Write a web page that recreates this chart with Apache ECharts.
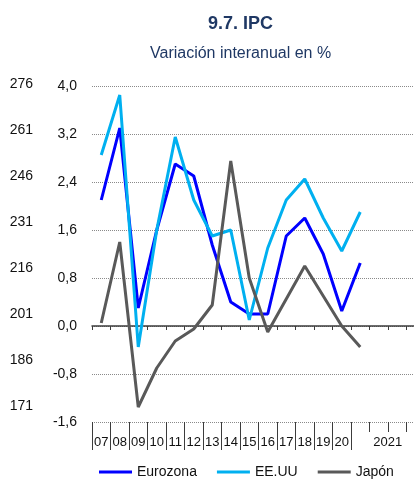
<!DOCTYPE html>
<html>
<head>
<meta charset="utf-8">
<script src="https://cdn.jsdelivr.net/npm/echarts@6/dist/echarts.min.js"></script>
<style>
  html, body { margin: 0; padding: 0; background: #ffffff; overflow: hidden; }
  #chart { width: 425px; height: 480px; }
</style>
</head>
<body>
<div id="chart"></div>
<script>
// Annual categories, followed by four sub-periods of 2021
const years = ['07', '08', '09', '10', '11', '12', '13', '14', '15', '16', '17', '18', '19', '20'];
const slots2021 = ['2021', '', '', ''];
const categories = years.concat(slots2021);

// Year-on-year CPI change, %
const eurozona = [2.1, 3.3, 0.3, 1.6, 2.7, 2.5, 1.35, 0.4, 0.2, 0.2, 1.5, 1.8, 1.2, 0.25, 1.05, null, null, null];
const eeuu     = [2.85, 3.85, -0.35, 1.6, 3.15, 2.1, 1.5, 1.6, 0.1, 1.3, 2.1, 2.45, 1.8, 1.25, 1.9, null, null, null];
const japon    = [0.05, 1.4, -1.35, -0.7, -0.25, -0.05, 0.35, 2.75, 0.8, -0.1, 0.45, 1.0, 0.5, 0.0, -0.35, null, null, null];

// Left scales
const pctMin = -1.6, pctMax = 4.0, pctStep = 0.8;
const idxMin = 171, idxMax = 276, idxStep = 15;

const FONT = '"Liberation Sans", Arial, sans-serif';
const navy = '#1F3864';
const ink = '#111111';
const axisGrey = '#3c3c3c';

const chart = echarts.init(document.getElementById('chart'), null, { renderer: 'canvas' });

chart.setOption({
  animation: false,
  backgroundColor: '#ffffff',
  textStyle: { fontFamily: FONT },
  title: [
    { text: '9.7. IPC', left: 203, top: 10,
      textStyle: { fontFamily: FONT, fontSize: 18, fontWeight: 'bold', color: navy } },
    { text: 'Variación interanual en %', left: 145, top: 41,
      textStyle: { fontFamily: FONT, fontSize: 16, fontWeight: 'normal', color: navy } }
  ],
  legend: {
    left: 94, top: 460,
    icon: 'rect', itemWidth: 33, itemHeight: 3, itemGap: 20,
    textStyle: { fontFamily: FONT, fontSize: 14, color: ink },
    data: ['Eurozona', 'EE.UU', 'Japón']
  },
  grid: [
    { left: 92, right: 0, top: 86, bottom: 58, containLabel: false },
    { left: 92, right: 0, top: 84, bottom: 74.3, containLabel: false }
  ],
  xAxis: [
    { // category labels with long separators below the plot
      type: 'category', gridIndex: 0, data: categories, position: 'bottom',
      boundaryGap: true,
      axisLine: { show: false, onZero: false },
      axisTick: { show: true, length: 28, interval: function (i) { return i <= years.length; },
                  lineStyle: { color: axisGrey, width: 1 } },
      axisLabel: {
        interval: 0, margin: 14, fontFamily: FONT, fontSize: 13, color: ink,
        formatter: function (v) { return v === '2021' ? '{y|2021}' : v; },
        rich: { y: { fontFamily: FONT, fontSize: 13, color: ink, padding: [0, 0, 0, 55] } }
      },
      splitLine: { show: false }
    },
    { // zero line with short ticks
      type: 'category', gridIndex: 0, data: categories, position: 'top',
      boundaryGap: true,
      axisLine: { show: true, onZero: true, lineStyle: { color: axisGrey, width: 1.5 } },
      axisTick: { show: true, inside: true, length: 4, interval: 0, lineStyle: { color: axisGrey, width: 1 } },
      axisLabel: { show: false },
      splitLine: { show: false }
    },
    { // short ticks under the 2021 sub-periods
      type: 'category', gridIndex: 0, data: categories, position: 'bottom',
      boundaryGap: true,
      axisLine: { show: false, onZero: false },
      axisTick: { show: true, length: 10,
                  interval: function (i) { return i > years.length && i < categories.length; },
                  lineStyle: { color: axisGrey, width: 1 } },
      axisLabel: { show: false },
      splitLine: { show: false }
    },
    { type: 'value', gridIndex: 1, min: 0, max: 1, show: false }
  ],
  yAxis: [
    {
      type: 'value', gridIndex: 0, min: pctMin, max: pctMax, interval: pctStep,
      axisLine: { show: false }, axisTick: { show: false },
      axisLabel: {
        margin: 15, fontFamily: FONT, fontSize: 14, color: ink,
        formatter: function (v) { return v.toFixed(1).replace('.', ','); }
      },
      splitLine: { show: true, lineStyle: { type: 'dotted', color: '#8a8a8a', width: 1 } }
    },
    {
      type: 'value', gridIndex: 1, min: idxMin, max: idxMax, interval: idxStep,
      axisLine: { show: false }, axisTick: { show: false },
      axisLabel: { margin: 59, fontFamily: FONT, fontSize: 14, color: ink },
      splitLine: { show: false }
    }
  ],
  series: [
    { name: 'Eurozona', type: 'line', xAxisIndex: 0, yAxisIndex: 0, data: eurozona,
      symbol: 'none', color: '#0000FF', lineStyle: { width: 3, color: '#0000FF' } },
    { name: 'EE.UU', type: 'line', xAxisIndex: 0, yAxisIndex: 0, data: eeuu,
      symbol: 'none', color: '#00B0F0', lineStyle: { width: 3, color: '#00B0F0' } },
    { name: 'Japón', type: 'line', xAxisIndex: 0, yAxisIndex: 0, data: japon,
      symbol: 'none', color: '#595959', lineStyle: { width: 3, color: '#595959' } }
  ]
});
</script>
</body>
</html>
